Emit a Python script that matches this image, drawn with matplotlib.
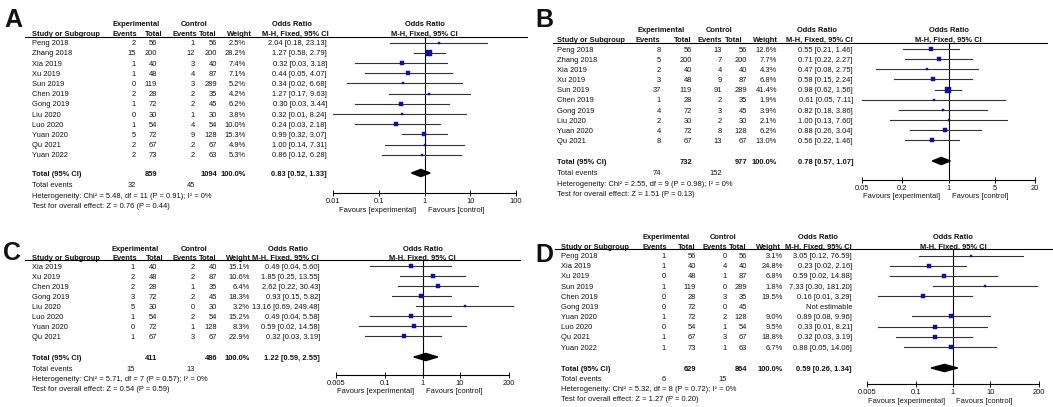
import matplotlib
matplotlib.use('Agg')
import matplotlib.pyplot as plt
from matplotlib.patches import Polygon
from matplotlib.ticker import NullLocator

plt.rcParams['font.family'] = ['Liberation Sans', 'DejaVu Sans']

W, H = 1053, 407
FS = 5.4
TXT = '#111111'
SQ = '#1010a0'
CI = '#333333'

# Panel A
a_studies = ['Peng 2018', 'Zhang 2018', 'Xia 2019', 'Xu 2019', 'Sun 2019', 'Chen 2019',
             'Gong 2019', 'Liu 2020', 'Luo 2020', 'Yuan 2020', 'Qu 2021', 'Yuan 2022']
a_exp_events = [2, 15, 1, 1, 0, 2, 1, 0, 1, 5, 2, 2]
a_exp_total = [56, 200, 40, 48, 119, 28, 72, 30, 54, 72, 67, 73]
a_ctl_events = [1, 12, 3, 4, 3, 2, 2, 1, 4, 9, 2, 2]
a_ctl_total = [56, 200, 40, 87, 289, 35, 45, 30, 54, 128, 67, 63]
a_weight = [2.5, 28.2, 7.4, 7.1, 5.2, 4.2, 6.2, 3.8, 10.0, 15.3, 4.9, 5.3]
a_or = [2.04, 1.27, 0.32, 0.44, 0.34, 1.27, 0.30, 0.32, 0.24, 0.99, 1.00, 0.86]
a_lo = [0.18, 0.58, 0.03, 0.05, 0.02, 0.17, 0.03, 0.01, 0.03, 0.32, 0.14, 0.12]
a_hi = [23.13, 2.79, 3.18, 4.07, 6.68, 9.63, 3.44, 8.24, 2.18, 3.07, 7.31, 6.28]
a_total = [859, 1094]
a_pooled = [0.83, 0.52, 1.33]
a_total_events = [32, 45]
a_het = 'Heterogeneity: Chi² = 5.48, df = 11 (P = 0.91); I² = 0%'
a_test = 'Test for overall effect: Z = 0.76 (P = 0.44)'
a_ticks = [0.01, 0.1, 1, 10, 100]
a_ticklabels = ['0.01', '0.1', '1', '10', '100']

# Panel B
b_studies = ['Peng 2018', 'Zhang 2018', 'Xia 2019', 'Xu 2019', 'Sun 2019', 'Chen 2019',
             'Gong 2019', 'Liu 2020', 'Yuan 2020', 'Qu 2021']
b_exp_events = [8, 5, 2, 3, 37, 1, 4, 2, 4, 8]
b_exp_total = [56, 200, 40, 48, 119, 28, 72, 30, 72, 67]
b_ctl_events = [13, 7, 4, 9, 91, 2, 3, 2, 8, 13]
b_ctl_total = [56, 200, 40, 87, 289, 35, 45, 30, 128, 67]
b_weight = [12.6, 7.7, 4.3, 6.8, 41.4, 1.9, 3.9, 2.1, 6.2, 13.0]
b_or = [0.55, 0.71, 0.47, 0.58, 0.98, 0.61, 0.82, 1.00, 0.88, 0.56]
b_lo = [0.21, 0.22, 0.08, 0.15, 0.62, 0.05, 0.18, 0.13, 0.26, 0.22]
b_hi = [1.46, 2.27, 2.75, 2.24, 1.56, 7.11, 3.86, 7.60, 3.04, 1.46]
b_total = [732, 977]
b_pooled = [0.78, 0.57, 1.07]
b_total_events = [74, 152]
b_het = 'Heterogeneity: Chi² = 2.55, df = 9 (P = 0.98); I² = 0%'
b_test = 'Test for overall effect: Z = 1.51 (P = 0.13)'
b_ticks = [0.05, 0.2, 1, 5, 20]
b_ticklabels = ['0.05', '0.2', '1', '5', '20']

# Panel C
c_studies = ['Xia 2019', 'Xu 2019', 'Chen 2019', 'Gong 2019', 'Liu 2020', 'Luo 2020',
             'Yuan 2020', 'Qu 2021']
c_exp_events = [1, 2, 2, 3, 5, 1, 0, 1]
c_exp_total = [40, 48, 28, 72, 30, 54, 72, 67]
c_ctl_events = [2, 2, 1, 2, 0, 2, 1, 3]
c_ctl_total = [40, 87, 35, 45, 30, 54, 128, 67]
c_weight = [15.1, 10.6, 6.4, 18.3, 3.2, 15.2, 8.3, 22.9]
c_or = [0.49, 1.85, 2.62, 0.93, 13.16, 0.49, 0.59, 0.32]
c_lo = [0.04, 0.25, 0.22, 0.15, 0.69, 0.04, 0.02, 0.03]
c_hi = [5.60, 13.55, 30.43, 5.82, 249.48, 5.58, 14.58, 3.19]
c_total = [411, 486]
c_pooled = [1.22, 0.59, 2.55]
c_total_events = [15, 13]
c_het = 'Heterogeneity: Chi² = 5.71, df = 7 (P = 0.57); I² = 0%'
c_test = 'Test for overall effect: Z = 0.54 (P = 0.59)'
c_ticks = [0.005, 0.1, 1, 10, 200]
c_ticklabels = ['0.005', '0.1', '1', '10', '200']

# Panel D (Gong 2019: no events in either arm -> not estimable)
d_studies = ['Peng 2018', 'Xia 2019', 'Xu 2019', 'Sun 2019', 'Chen 2019', 'Gong 2019',
             'Yuan 2020', 'Luo 2020', 'Qu 2021', 'Yuan 2022']
d_exp_events = [1, 1, 0, 1, 0, 0, 1, 0, 1, 1]
d_exp_total = [56, 40, 48, 119, 28, 72, 72, 54, 67, 73]
d_ctl_events = [0, 4, 1, 0, 3, 0, 2, 1, 3, 1]
d_ctl_total = [56, 40, 87, 289, 35, 45, 128, 54, 67, 63]
d_weight = [3.1, 24.8, 6.8, 1.8, 19.5, None, 9.0, 9.5, 18.8, 6.7]
d_or = [3.05, 0.23, 0.59, 7.33, 0.16, None, 0.89, 0.33, 0.32, 0.88]
d_lo = [0.12, 0.02, 0.02, 0.30, 0.01, None, 0.08, 0.01, 0.03, 0.05]
d_hi = [76.59, 2.16, 14.88, 181.20, 3.29, None, 9.96, 8.21, 3.19, 14.06]
d_total = [629, 864]
d_pooled = [0.59, 0.26, 1.34]
d_total_events = [6, 15]
d_het = 'Heterogeneity: Chi² = 5.32, df = 8 (P = 0.72); I² = 0%'
d_test = 'Test for overall effect: Z = 1.27 (P = 0.20)'
d_ticks = [0.005, 0.1, 1, 10, 200]
d_ticklabels = ['0.005', '0.1', '1', '10', '200']

# pixel layout of each panel (x of right edges for numeric columns)
LAYOUT = {
    'A': dict(letter=(4, 18), h1=23, h2=33, rule=36.5, rule_x=(25, 527),
              row0=42.5, step=10.2, total=173, events=184, het=195, test=205,
              name_x=32, val_x=[136, 157, 195, 217, 246, 327],
              head_x=[137, 163, 197, 217, 252, 329], exp_x=136, ctl_x=194, or_x=292,
              forest=(333, 516, 193), fav=209.5),
    'B': dict(letter=(535, 18), h1=29, h2=39, rule=43, rule_x=(553, 1047),
              row0=49, step=10.15, total=161, events=172, het=183, test=193,
              name_x=557, val_x=[661, 692, 722, 747, 777, 853],
              head_x=[660, 692, 722, 743, 778, 853], exp_x=661, ctl_x=719, or_x=817,
              forest=(862, 1035, 180), fav=195),
    'C': dict(letter=(3, 251), h1=248, h2=257, rule=260, rule_x=(25, 520),
              row0=266, step=10, total=357, events=368, het=378, test=388,
              name_x=32, val_x=[135, 157, 195, 217, 250, 320],
              head_x=[137, 164, 197, 217, 251, 319], exp_x=135.5, ctl_x=194, or_x=288,
              forest=(336, 509, 375), fav=390),
    'D': dict(letter=(535, 253), h1=236, h2=246, rule=248.5, rule_x=(555, 1052),
              row0=255.5, step=10.15, total=368, events=378, het=388, test=398,
              name_x=561, val_x=[666, 696, 727, 747, 783, 852],
              head_x=[667, 696, 727, 747, 781, 852], exp_x=666, ctl_x=723, or_x=818,
              forest=(867, 1039, 384), fav=400),
}


def put(ax, x, y, s, ha='left', bold=False, size=FS):
    # y is the visual centre of capital letters, in pixels from the top
    cap = 0.716 * size * 100 / 72
    ax.text(x, y + cap / 2, s, ha=ha, va='baseline', fontsize=size, color=TXT,
            fontweight='bold' if bold else 'normal')


def fmt_or(est, lo, hi):
    if est is None:
        return 'Not estimable'
    return f'{est:.2f} [{lo:.2f}, {hi:.2f}]'


def draw_panel(fig, bg, key, p):
    L = LAYOUT[key]
    put(bg, L['letter'][0], L['letter'][1], key, bold=True, size=18)

    # headers
    put(bg, L['exp_x'], L['h1'], 'Experimental', ha='center', bold=True)
    put(bg, L['ctl_x'], L['h1'], 'Control', ha='center', bold=True)
    put(bg, L['or_x'], L['h1'], 'Odds Ratio', ha='center', bold=True)
    put(bg, L['name_x'], L['h2'], 'Study or Subgroup', bold=True)
    for x, s in zip(L['head_x'], ['Events', 'Total', 'Events', 'Total', 'Weight',
                                  'M-H, Fixed, 95% CI']):
        put(bg, x, L['h2'], s, ha='right', bold=True)
    bg.plot(L['rule_x'], [L['rule'], L['rule']], color='black', lw=0.8)

    fx0, fx1, fy = L['forest']
    fmid = (fx0 + fx1) / 2
    put(bg, fmid, L['h1'], 'Odds Ratio', ha='center', bold=True)
    put(bg, fmid, L['h2'], 'M-H, Fixed, 95% CI', ha='center', bold=True)

    ys = [L['row0'] + i * L['step'] for i in range(len(p['studies']))]
    vx = L['val_x']
    for i, y in enumerate(ys):
        w = p['weight'][i]
        cells = [p['exp_events'][i], p['exp_total'][i], p['ctl_events'][i],
                 p['ctl_total'][i], '' if w is None else f'{w:.1f}%',
                 fmt_or(p['or'][i], p['lo'][i], p['hi'][i])]
        put(bg, L['name_x'], y, p['studies'][i])
        for x, s in zip(vx, cells):
            put(bg, x, y, str(s), ha='right')

    put(bg, L['name_x'], L['total'], 'Total (95% CI)', bold=True)
    put(bg, vx[1], L['total'], str(p['total'][0]), ha='right', bold=True)
    put(bg, vx[3], L['total'], str(p['total'][1]), ha='right', bold=True)
    put(bg, vx[4], L['total'], '100.0%', ha='right', bold=True)
    put(bg, vx[5], L['total'], fmt_or(*p['pooled']), ha='right', bold=True)
    put(bg, L['name_x'], L['events'], 'Total events')
    put(bg, vx[0], L['events'], str(p['total_events'][0]), ha='right')
    put(bg, vx[2], L['events'], str(p['total_events'][1]), ha='right')
    put(bg, L['name_x'], L['het'], p['het'])
    put(bg, L['name_x'], L['test'], p['test'])

    # forest plot, x on log scale, y in pixel rows
    ticks = p['ticks']
    ax = fig.add_axes([fx0 / W, 1 - fy / H, (fx1 - fx0) / W, (fy - L['rule']) / H])
    ax.set_xscale('log')
    ax.set_xlim(ticks[0], ticks[-1])
    ax.set_ylim(fy, L['rule'])
    ax.set_facecolor('none')
    for s in ['top', 'right', 'left']:
        ax.spines[s].set_visible(False)
    ax.spines['bottom'].set_linewidth(0.8)
    ax.set_yticks([])
    ax.set_xticks(ticks)
    ax.set_xticklabels(p['ticklabels'])
    ax.xaxis.set_minor_locator(NullLocator())
    ax.tick_params(axis='x', direction='inout', length=5, width=0.7,
                   labelsize=FS, pad=1.2, colors=TXT)
    ax.axvline(1, color='black', lw=0.8)

    for i, y in enumerate(ys):
        if p['or'][i] is None:
            continue
        ax.plot([p['lo'][i], p['hi'][i]], [y, y], color=CI, lw=0.8, clip_on=False)
        ax.plot(p['or'][i], y, marker='s', ms=0.8 + 0.55 * p['weight'][i] ** 0.5,
                color=SQ, mec=SQ, mew=0.3, clip_on=False, zorder=3)

    est, lo, hi = p['pooled']
    yt = L['total']
    ax.add_patch(Polygon([(lo, yt), (est, yt - 3.6), (hi, yt), (est, yt + 3.6)],
                         closed=True, color='black', clip_on=False, zorder=3))

    x1 = fx0 + (fx1 - fx0) / 2
    put(bg, x1 - 8, L['fav'], 'Favours [experimental]', ha='right')
    put(bg, x1 + 3, L['fav'], 'Favours [control]')


panels = {}
for key, studies, ee, et, ce, ct, wt, est, lo, hi, tot, pooled, tev, het, test, tk, tl in [
        ('A', a_studies, a_exp_events, a_exp_total, a_ctl_events, a_ctl_total, a_weight,
         a_or, a_lo, a_hi, a_total, a_pooled, a_total_events, a_het, a_test,
         a_ticks, a_ticklabels),
        ('B', b_studies, b_exp_events, b_exp_total, b_ctl_events, b_ctl_total, b_weight,
         b_or, b_lo, b_hi, b_total, b_pooled, b_total_events, b_het, b_test,
         b_ticks, b_ticklabels),
        ('C', c_studies, c_exp_events, c_exp_total, c_ctl_events, c_ctl_total, c_weight,
         c_or, c_lo, c_hi, c_total, c_pooled, c_total_events, c_het, c_test,
         c_ticks, c_ticklabels),
        ('D', d_studies, d_exp_events, d_exp_total, d_ctl_events, d_ctl_total, d_weight,
         d_or, d_lo, d_hi, d_total, d_pooled, d_total_events, d_het, d_test,
         d_ticks, d_ticklabels)]:
    panels[key] = dict(studies=studies, exp_events=ee, exp_total=et, ctl_events=ce,
                       ctl_total=ct, weight=wt, lo=lo, hi=hi, total=tot, pooled=pooled,
                       total_events=tev, het=het, test=test, ticks=tk, ticklabels=tl)
    panels[key]['or'] = est

fig = plt.figure(figsize=(W / 100, H / 100), dpi=100)
bg = fig.add_axes([0, 0, 1, 1])
bg.set_xlim(0, W)
bg.set_ylim(H, 0)
bg.axis('off')

for key, p in panels.items():
    draw_panel(fig, bg, key, p)

fig.savefig('out.png', dpi=100, facecolor='white')
